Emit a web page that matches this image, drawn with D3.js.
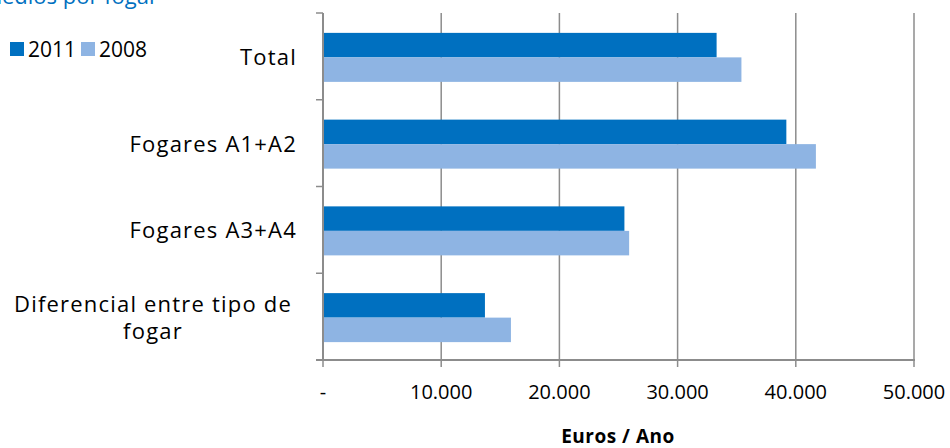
<!DOCTYPE html>
<html>
<head>
<meta charset="utf-8">
<script src="https://cdn.jsdelivr.net/npm/d3@7"></script>
<style>
  body { margin: 0; background: #fff; }
  text { font-family: "Open Sans", sans-serif; }
</style>
</head>
<body>
<div id="chart"></div>
<script>
var categories = ["Total", "Fogares A1+A2", "Fogares A3+A4", "Diferencial entre tipo de fogar"];
var catLines = [["Total"], ["Fogares A1+A2"], ["Fogares A3+A4"], ["Diferencial entre tipo de", "fogar"]];
var series = ["2011", "2008"];
var values2011 = [33300, 39200, 25500, 13700];
var values2008 = [35400, 41700, 25900, 15900];
var xTicks = [0, 10000, 20000, 30000, 40000, 50000];
var tickLabels = ["-", "10.000", "20.000", "30.000", "40.000", "50.000"];

function draw_chart() {
  var width = 950, height = 448;
  var color = d3.scaleOrdinal(series, ["#0070C0", "#8EB4E3"]);

  var svg = d3.select("div#chart")
    .append("svg")
    .attr("width", width)
    .attr("height", height);

  const x = d3.scaleLinear().domain([0, 50000]).range([323, 914]);
  const y = d3.scaleBand().domain(categories).range([13, 360]);
  const inner = d3.scaleBand().domain(series).range([0, 49]);
  const bandPad = (y.bandwidth() - 49) / 2 + 1;

  // title (cut off at the top in the original)
  svg.append("text")
    .attr("x", 158).attr("y", 4)
    .attr("text-anchor", "end")
    .attr("fill", "#0070C0")
    .style("font-size", "22px")
    .text("Ingresos medios por fogar");

  // gridlines
  svg.append("g")
    .selectAll("line")
    .data(xTicks.slice(1))
    .join("line")
    .attr("x1", d => x(d)).attr("x2", d => x(d))
    .attr("y1", 13).attr("y2", 360)
    .attr("stroke", "#8c8c8c")
    .attr("stroke-width", 1.5);

  // bars
  const rows = categories.map((c, i) => ({cat: c, vals: [values2011[i], values2008[i]]}));
  const grp = svg.append("g")
    .selectAll("g")
    .data(rows)
    .join("g")
    .attr("transform", d => `translate(0,${y(d.cat) + bandPad})`);
  grp.selectAll("rect")
    .data(d => series.map((s, j) => ({s: s, v: d.vals[j]})))
    .join("rect")
    .attr("x", x(0))
    .attr("y", d => inner(d.s))
    .attr("width", d => x(d.v) - x(0))
    .attr("height", inner.bandwidth())
    .attr("fill", d => color(d.s));

  // y axis
  const yAxis = svg.append("g");
  yAxis.append("line")
    .attr("x1", x(0)).attr("x2", x(0))
    .attr("y1", 13).attr("y2", 361)
    .attr("stroke", "#8c8c8c").attr("stroke-width", 2);
  yAxis.selectAll("line.tk")
    .data(d3.range(categories.length + 1))
    .join("line")
    .attr("class", "tk")
    .attr("x1", x(0) - 7).attr("x2", x(0))
    .attr("y1", i => 13 + i * y.step()).attr("y2", i => 13 + i * y.step())
    .attr("stroke", "#8c8c8c").attr("stroke-width", 1.5);

  // x axis
  const xAxis = svg.append("g");
  xAxis.append("line")
    .attr("x1", x(0) - 7).attr("x2", x(50000) + 1)
    .attr("y1", 360).attr("y2", 360)
    .attr("stroke", "#8c8c8c").attr("stroke-width", 2);
  xAxis.selectAll("line.tk")
    .data(xTicks)
    .join("line")
    .attr("class", "tk")
    .attr("x1", d => x(d)).attr("x2", d => x(d))
    .attr("y1", 360).attr("y2", 367)
    .attr("stroke", "#8c8c8c").attr("stroke-width", 1.5);
  xAxis.selectAll("text")
    .data(xTicks)
    .join("text")
    .attr("x", d => x(d))
    .attr("y", 399)
    .attr("text-anchor", "middle")
    .style("font-size", "20px")
    .attr("fill", "#000")
    .text((d, i) => tickLabels[i]);

  svg.append("text")
    .attr("x", 618).attr("y", 443)
    .attr("text-anchor", "middle")
    .style("font-size", "19px")
    .style("font-weight", "bold")
    .style("letter-spacing", "0.5px")
    .text("Euros / Ano");

  // category labels
  svg.append("g")
    .selectAll("text")
    .data(categories)
    .join("text")
    .style("font-size", "22px")
    .style("letter-spacing", "1.2px")
    .attr("fill", "#000")
    .each(function(d, i) {
      const lines = catLines[i];
      const c = y(d) + y.bandwidth() / 2;
      const multi = lines.length > 1;
      const cy = multi ? c - 5 : c + 8.5;
      d3.select(this).attr("text-anchor", multi ? "middle" : "end");
      d3.select(this).selectAll("tspan")
        .data(lines)
        .join("tspan")
        .attr("x", multi ? 153 : 297)
        .attr("y", (l, k) => cy + k * 27)
        .text(l => l);
    });

  // legend
  const leg = svg.append("g")
    .selectAll("g")
    .data(series)
    .join("g")
    .attr("transform", (d, i) => `translate(${10 + i * 71},0)`);
  leg.append("rect")
    .attr("x", 0).attr("y", 42)
    .attr("width", 14).attr("height", 14)
    .attr("fill", d => color(d));
  leg.append("text")
    .attr("x", 18).attr("y", 57)
    .style("font-size", "21px")
    .text(d => d);

  return svg.node();
}
draw_chart()
</script>
</body>
</html>
